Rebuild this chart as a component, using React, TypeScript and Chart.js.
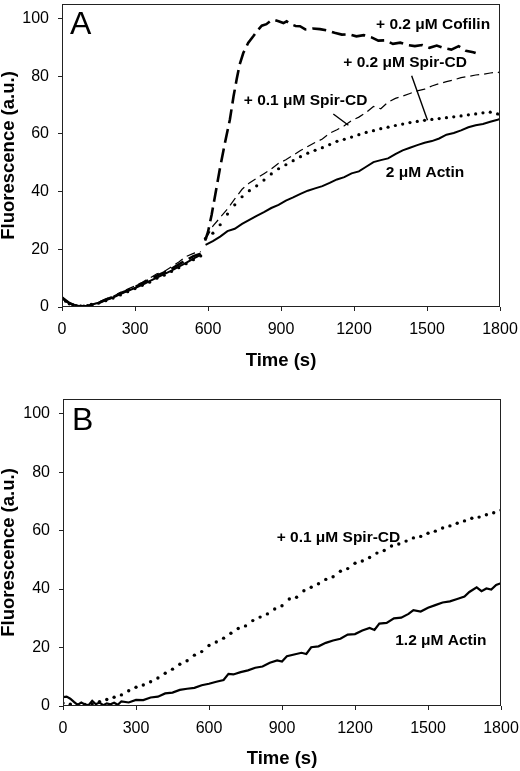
import React, { useEffect, useRef } from "react";
import { Chart, registerables } from "chart.js";

Chart.register(...registerables);

const FONT = 'Arial, "Liberation Sans", Helvetica, sans-serif';

// ---------- axes ----------
const timeTicks = [0, 300, 600, 900, 1200, 1500, 1800];
const fluorTicks = [0, 20, 40, 60, 80, 100];
const timeRange = [0, 1800];
const fluorRange = [0, 105];
const xTitle = "Time (s)";
const yTitle = "Fluorescence (a.u.)";

// ---------- panel A: before mixing (shared by all traces) ----------
const earlyTimeA = [0, 15, 30, 45, 60, 75, 90, 105, 120, 150, 180, 210, 240, 270, 300, 330, 360, 390, 420, 450, 480, 510, 540, 570];
const earlyActinA = [3.0, 2.1, 1.3, 0.9, 0.5, 0.3, 0.2, 0.4, 0.8, 1.5, 2.4, 3.3, 4.5, 5.6, 6.6, 7.7, 9.0, 10.2, 11.4, 12.6, 14.0, 15.3, 16.8, 18.1];
const earlySpir01A = [3.6, 2.4, 1.5, 1.0, 0.6, 0.3, 0.1, 0.3, 0.7, 1.7, 2.8, 3.7, 5.0, 6.2, 7.3, 8.6, 10.0, 11.5, 12.3, 13.9, 15.6, 17.5, 18.6, 19.2];
const earlySpir02A = [3.2, 2.0, 1.1, 0.7, 0.4, 0.2, 0.3, 0.5, 0.9, 1.3, 2.2, 3.1, 4.2, 5.3, 6.4, 7.5, 8.6, 10.0, 11.0, 12.3, 13.6, 15.0, 16.4, 17.7];
const earlyCofilinA = [3.3, 2.3, 1.4, 0.8, 0.5, 0.4, 0.2, 0.3, 0.6, 1.4, 2.5, 3.5, 4.8, 5.7, 6.9, 8.2, 9.4, 10.9, 12.0, 13.2, 14.8, 16.2, 17.6, 18.5];
const gapTimeA = 580;

// ---------- panel A: after mixing ----------
const lateTimeA = [590, 620, 650, 680, 710, 740, 770, 800, 830, 860, 890, 920, 950, 980, 1010, 1040, 1070, 1100, 1130, 1160, 1190, 1220, 1250, 1280, 1310, 1340, 1370, 1400, 1430, 1460, 1490, 1520, 1550, 1580, 1610, 1640, 1670, 1700, 1730, 1760, 1790, 1800];
const lateActinA = [21.5, 22.8, 24.4, 26.3, 27.1, 28.8, 30.2, 31.6, 32.9, 34.3, 35.4, 36.9, 38.0, 39.2, 40.3, 41.1, 41.9, 43.0, 44.2, 45.0, 46.3, 47.0, 48.6, 50.2, 50.9, 51.5, 53.0, 54.3, 55.2, 56.1, 56.9, 57.5, 58.4, 59.7, 60.3, 61.2, 62.3, 63.0, 63.4, 64.2, 64.9, 65.2];
const lateSpir01A = [23.5, 28.0, 31.0, 34.0, 37.5, 40.8, 43.0, 44.6, 46.2, 47.8, 49.8, 51.0, 52.6, 54.2, 55.6, 57.0, 58.2, 60.2, 61.4, 62.8, 64.6, 65.8, 67.4, 69.5, 68.7, 71.0, 72.3, 73.1, 74.0, 74.9, 75.5, 76.6, 77.4, 78.1, 78.7, 79.5, 79.9, 80.4, 80.6, 81.1, 81.5, 81.0];
const lateSpir02A = [23.8, 25.6, 28.5, 32.2, 35.4, 38.2, 40.3, 42.0, 44.0, 46.1, 47.9, 49.3, 50.7, 52.1, 53.3, 54.3, 55.2, 56.3, 57.4, 58.1, 58.9, 59.7, 60.5, 61.1, 61.8, 62.3, 62.9, 63.4, 63.9, 64.3, 64.7, 65.0, 65.3, 65.6, 65.9, 66.2, 66.6, 66.9, 67.3, 67.5, 66.9, 66.6];
const cofilinTimeA = [588, 600, 615, 630, 649, 670, 690, 705, 718, 730, 745, 765, 786, 805, 821, 840, 855, 870, 890, 910, 923, 940, 960, 978, 1000, 1030, 1060, 1090, 1120, 1150, 1180, 1210, 1240, 1270, 1300, 1330, 1360, 1390, 1420, 1450, 1480, 1510, 1540, 1570, 1600, 1630, 1660, 1690, 1700];
const cofilinA = [23, 26, 32, 39, 48, 57, 65, 73, 79, 84, 88, 91.5, 93.8, 96, 97.5, 98, 99, 99.5, 99, 98.4, 99, 98, 97.4, 97.3, 96.2, 96.5, 96.3, 95.8, 95, 94.4, 94.5, 93.8, 94.2, 93.5, 92.3, 92.4, 91.2, 91.6, 90.8, 90.4, 90.8, 89.8, 90.6, 89.7, 89.2, 90.4, 88.8, 88.3, 88];

// ---------- panel B ----------
const actinTimeB = [0, 15, 30, 45, 60, 75, 90, 105, 120, 135, 150, 165, 180, 195, 210, 225, 240, 270, 300, 330, 360, 390, 420, 450, 480, 510, 540, 570, 600, 630, 660, 680, 700, 730, 760, 790, 820, 850, 880, 900, 920, 950, 980, 1000, 1020, 1050, 1080, 1110, 1140, 1170, 1200, 1230, 1260, 1280, 1300, 1330, 1360, 1390, 1420, 1440, 1470, 1500, 1530, 1560, 1590, 1620, 1650, 1670, 1700, 1720, 1740, 1760, 1780, 1800];
const actinB = [3, 3.2, 2.5, 1.4, 0.4, 1.2, 0.5, 0.3, 1.8, 0.6, 1.2, 0.3, 0.9, 0.6, 1.1, 0.4, 1.6, 1.2, 2.1, 2.0, 2.9, 3.2, 4.3, 4.6, 5.5, 5.9, 6.2, 7.1, 7.6, 8.3, 8.9, 11, 10.8, 11.6, 12.2, 13.1, 13.5, 14.8, 15.6, 15.2, 17, 17.6, 18.2, 17.8, 20.1, 20.4, 21.6, 22.4, 23, 24.4, 24.6, 25.8, 26.7, 26, 28.2, 28.4, 30, 30.2, 31.5, 32.8, 32.3, 33.6, 34.5, 35.4, 35.8, 36.6, 37.4, 39, 40.6, 39.3, 40.2, 39.8, 41.4, 42];
const spirTimeB = [0, 30, 60, 90, 120, 150, 180, 210, 240, 270, 300, 330, 360, 390, 420, 450, 480, 510, 540, 570, 600, 630, 660, 690, 720, 750, 780, 810, 840, 870, 900, 930, 960, 990, 1020, 1050, 1080, 1110, 1140, 1170, 1200, 1230, 1260, 1290, 1320, 1350, 1380, 1410, 1440, 1470, 1500, 1530, 1560, 1590, 1620, 1650, 1680, 1710, 1740, 1770, 1800];
const spirB = [1.0, 0.6, 0.4, 0.5, 0.7, 1.5, 2.2, 3.0, 3.8, 5.2, 6.4, 7.2, 8.3, 9.6, 11.2, 12.6, 14.3, 15.5, 17.4, 18.6, 20.7, 21.9, 23.2, 24.9, 26.5, 27.4, 29.2, 30.4, 31.5, 33.2, 34.3, 36.6, 37.2, 39.4, 40.6, 41.8, 43.3, 44.2, 46.1, 47.0, 48.8, 49.6, 50.8, 52.3, 53.2, 54.7, 55.4, 56.4, 57.5, 58.0, 59.1, 59.8, 60.9, 61.6, 62.5, 63.3, 64.2, 64.6, 65.4, 66.1, 67.0];

// ---------- annotations (data coordinates) ----------
const labelTextA = ["+ 0.2 \u03bcM Cofilin", "+ 0.2 \u03bcM Spir-CD", "+ 0.1 \u03bcM Spir-CD", "2 \u03bcM Actin"];
const labelTimeA = [1525, 1410, 1001, 1492];
const labelValueA = [97.8, 84.7, 71.5, 46.7];
const pointerA = [
  [1115, 66.9, 1177, 63.0],
  [1437, 80.1, 1502, 64.7],
];
const labelTextB = ["+ 0.1 \u03bcM Spir-CD", "1.2 \u03bcM Actin"];
const labelTimeB = [1132, 1553];
const labelValueB = [57.5, 22.4];
const pointerB: number[][] = [];

const panelLetterA = { text: "A", t: 33, v: 94.6 };
const panelLetterB = { text: "B", t: 37, v: 94.5 };

// ---------- helpers ----------
function pts(times: number[], values: number[]) {
  return times.map((t, i) => ({ x: t, y: values[i] }));
}
function withGap(t1: number[], v1: number[], gap: number, t2: number[], v2: number[]) {
  return [...pts(t1, v1), { x: gap, y: null as any }, ...pts(t2, v2)];
}

const decorPlugin = {
  id: "decor",
  afterDatasetsDraw(chart: any, _args: any, opts: any) {
    const { ctx, chartArea: a, scales } = chart;
    const x = scales.x;
    const y = scales.y;
    ctx.save();
    // frame
    ctx.strokeStyle = "#222";
    ctx.lineWidth = 1;
    const l = Math.round(a.left) + 0.5;
    const t = Math.round(a.top) + 0.5;
    const r = Math.round(a.right) - 0.5;
    const b = Math.round(a.bottom) - 0.5;
    ctx.strokeRect(l, t, r - l, b - t);
    // panel letter
    ctx.fillStyle = "#000";
    ctx.font = `32px ${FONT}`;
    ctx.textAlign = "left";
    ctx.textBaseline = "alphabetic";
    ctx.fillText(opts.letter.text, x.getPixelForValue(opts.letter.t), y.getPixelForValue(opts.letter.v));
    // labels
    ctx.font = `bold 15.5px ${FONT}`;
    ctx.textAlign = "center";
    ctx.textBaseline = "middle";
    opts.texts.forEach((txt: string, i: number) => {
      ctx.fillText(txt, x.getPixelForValue(opts.times[i]), y.getPixelForValue(opts.values[i]));
    });
    // pointers
    ctx.strokeStyle = "#000";
    ctx.lineWidth = 1.4;
    opts.pointers.forEach((p: number[]) => {
      ctx.beginPath();
      ctx.moveTo(x.getPixelForValue(p[0]), y.getPixelForValue(p[1]));
      ctx.lineTo(x.getPixelForValue(p[2]), y.getPixelForValue(p[3]));
      ctx.stroke();
    });
    ctx.restore();
  },
};

function makeOptions(p: {
  padTop: number;
  padRight: number;
  yWidth: number;
  xHeight: number;
  xTitlePad: number;
  letter: any;
  texts: string[];
  times: number[];
  values: number[];
  pointers: number[][];
}) {
  return {
    responsive: false,
    animation: false as const,
    devicePixelRatio: 1,
    events: [] as any[],
    layout: { padding: { top: p.padTop, right: p.padRight, left: 0, bottom: 0 } },
    plugins: {
      legend: { display: false },
      tooltip: { enabled: false },
      decor: { letter: p.letter, texts: p.texts, times: p.times, values: p.values, pointers: p.pointers },
    },
    scales: {
      x: {
        type: "linear" as const,
        min: timeRange[0],
        max: timeRange[1],
        afterBuildTicks: (s: any) => {
          s.ticks = timeTicks.map((v) => ({ value: v }));
        },
        afterFit: (s: any) => {
          s.height = p.xHeight;
          s.paddingLeft = 0;
          s.paddingRight = 0;
          s.paddingTop = 0;
          s.paddingBottom = 0;
        },
        border: { display: false },
        grid: { display: true, drawOnChartArea: false, drawTicks: true, tickLength: 4, color: "#222", lineWidth: 1 },
        ticks: {
          color: "#000",
          padding: 9,
          maxRotation: 0,
          autoSkip: false,
          font: { family: FONT, size: 16 },
          callback: (v: any) => String(v),
        },
        title: {
          display: true,
          text: xTitle,
          color: "#000",
          padding: { top: 0, bottom: p.xTitlePad },
          font: { family: FONT, size: 18.5, weight: "bold" as const, lineHeight: 1.0 },
        },
      },
      y: {
        type: "linear" as const,
        min: fluorRange[0],
        max: fluorRange[1],
        afterBuildTicks: (s: any) => {
          s.ticks = fluorTicks.map((v) => ({ value: v }));
        },
        afterFit: (s: any) => {
          s.width = p.yWidth;
          s.paddingLeft = 0;
          s.paddingRight = 0;
          s.paddingTop = 0;
          s.paddingBottom = 0;
        },
        border: { display: false },
        grid: { display: true, drawOnChartArea: false, drawTicks: true, tickLength: 4, color: "#222", lineWidth: 1 },
        ticks: {
          color: "#000",
          padding: 9,
          autoSkip: false,
          font: { family: FONT, size: 16 },
          callback: (v: any) => String(v),
        },
        title: {
          display: true,
          text: yTitle,
          color: "#000",
          padding: { top: 0, bottom: 0 },
          font: { family: FONT, size: 18.5, weight: "bold" as const, lineHeight: 1.0 },
        },
      },
    },
  };
}

function configA(): any {
  return {
    type: "line",
    data: {
      datasets: [
        {
          label: "2 \u03bcM Actin",
          data: withGap(earlyTimeA, earlyActinA, gapTimeA, lateTimeA, lateActinA),
          borderColor: "#000",
          borderWidth: 2,
          pointRadius: 0,
          tension: 0,
          spanGaps: false,
        },
        {
          label: "+ 0.1 \u03bcM Spir-CD",
          data: withGap(earlyTimeA, earlySpir01A, gapTimeA, lateTimeA, lateSpir01A),
          borderColor: "#000",
          borderWidth: 1.2,
          borderDash: [9, 5],
          pointRadius: 0,
          tension: 0,
          spanGaps: false,
        },
        {
          label: "+ 0.2 \u03bcM Spir-CD",
          data: withGap(earlyTimeA, earlySpir02A, gapTimeA, lateTimeA, lateSpir02A),
          showLine: false,
          pointRadius: 1.6,
          pointBackgroundColor: "#000",
          pointBorderWidth: 0,
          borderColor: "#000",
        },
        {
          label: "+ 0.2 \u03bcM Cofilin",
          data: withGap(earlyTimeA, earlyCofilinA, gapTimeA, cofilinTimeA, cofilinA),
          borderColor: "#000",
          borderWidth: 2.6,
          borderDash: [14, 6],
          pointRadius: 0,
          tension: 0,
          spanGaps: false,
        },
      ],
    },
    options: makeOptions({
      padTop: 1,
      padRight: 20,
      yWidth: 62,
      xHeight: 78,
      xTitlePad: 14.5,
      letter: panelLetterA,
      texts: labelTextA,
      times: labelTimeA,
      values: labelValueA,
      pointers: pointerA,
    }),
    plugins: [decorPlugin],
  };
}

function configB(): any {
  return {
    type: "line",
    data: {
      datasets: [
        {
          label: "1.2 \u03bcM Actin",
          data: pts(actinTimeB, actinB),
          borderColor: "#000",
          borderWidth: 2.2,
          pointRadius: 0,
          tension: 0,
        },
        {
          label: "+ 0.1 \u03bcM Spir-CD",
          data: pts(spirTimeB, spirB),
          showLine: false,
          pointRadius: 1.7,
          pointBackgroundColor: "#000",
          pointBorderWidth: 0,
          borderColor: "#000",
        },
      ],
    },
    options: makeOptions({
      padTop: 14,
      padRight: 19,
      yWidth: 63,
      xHeight: 65,
      xTitlePad: 2.5,
      letter: panelLetterB,
      texts: labelTextB,
      times: labelTimeB,
      values: labelValueB,
      pointers: pointerB,
    }),
    plugins: [decorPlugin],
  };
}

function Panel({ make, top, height }: { make: () => any; top: number; height: number }) {
  const ref = useRef<HTMLCanvasElement>(null);
  useEffect(() => {
    const chart = new Chart(ref.current as HTMLCanvasElement, make());
    return () => chart.destroy();
  }, []);
  return (
    <canvas
      ref={ref}
      width={520}
      height={height}
      style={{ position: "absolute", left: 0, top, width: 520, height, display: "block" }}
    />
  );
}

export default function App() {
  return (
    <div style={{ position: "absolute", left: 0, top: 0, width: 520, height: 771, background: "#fff" }}>
      <Panel make={configA} top={0} height={385} />
      <Panel make={configB} top={385} height={386} />
    </div>
  );
}
